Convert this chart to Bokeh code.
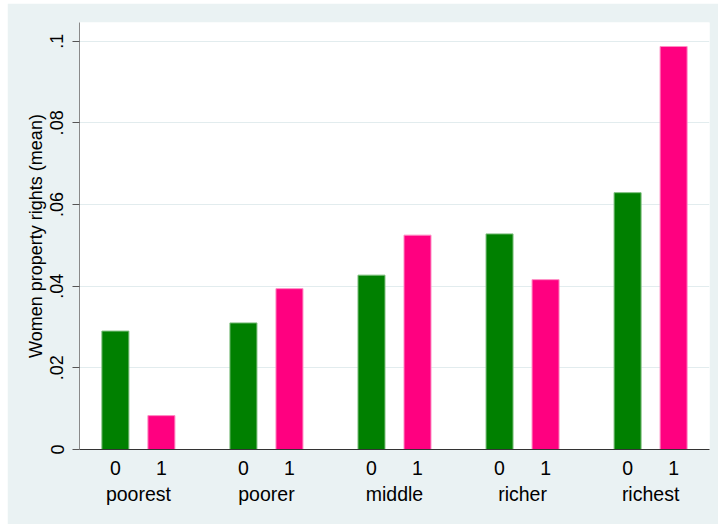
from bokeh.embed import file_html
from bokeh.layouts import column, row
from bokeh.models import ColumnDataSource, FactorRange, FixedTicker, Range1d, Spacer
from bokeh.plotting import figure
from bokeh.resources import INLINE

# Wealth quintiles and the two sub-groups shown within each
groups = ["poorest", "poorer", "middle", "richer", "richest"]
subgroups = ["0", "1"]

# Mean of the women property rights indicator per quintile and sub-group
mean_0 = [0.0290, 0.0310, 0.0427, 0.0528, 0.0629]
mean_1 = [0.0083, 0.0394, 0.0525, 0.0416, 0.0987]

y_ticks = [0, 0.02, 0.04, 0.06, 0.08, 0.1]
y_tick_labels = ["0", ".02", ".04", ".06", ".08", ".1"]

FONT = "Liberation Sans"
BG = "#EAF2F3"
GREEN, GREEN_EDGE = "#008000", "#7DBE7D"
PINK, PINK_EDGE = "#FF0080", "#FF8CC4"

factors, tops, fills, edges = [], [], [], []
for g, v0, v1 in zip(groups, mean_0, mean_1):
    factors += [(g, subgroups[0]), (g, subgroups[1])]
    tops += [v0, v1]
    fills += [GREEN, PINK]
    edges += [GREEN_EDGE, PINK_EDGE]

source = ColumnDataSource(dict(x=factors, top=tops, fill=fills, edge=edges))

x_range = FactorRange(
    *factors,
    factor_padding=0.0,
    group_padding=0.7826,
    range_padding=0.28,
    range_padding_units="absolute",
)

p = figure(
    x_range=x_range,
    y_range=Range1d(0, 0.10458),
    width=711,
    height=521,
    output_backend="svg",
    toolbar_location=None,
    min_border_left=72,
    min_border_right=9,
    min_border_top=19,
    min_border_bottom=75,
)
p.background_fill_color = "white"
p.border_fill_color = BG
p.outline_line_color = None

p.vbar(x="x", top="top", width=0.587, fill_color="fill", line_color="edge",
       line_width=1, source=source)

# Horizontal grid only
p.xgrid.grid_line_color = None
p.ygrid.ticker = FixedTicker(ticks=y_ticks)
p.ygrid.grid_line_color = "#E2ECEE"
p.ygrid.grid_line_width = 1

# Y axis: rotated tick labels in Stata style
yax = p.yaxis[0]
yax.ticker = FixedTicker(ticks=y_ticks)
yax.major_label_overrides = {t: lab for t, lab in zip(y_ticks, y_tick_labels)}
yax.major_label_orientation = "vertical"
yax.major_label_text_font = FONT
yax.major_label_text_font_size = "18px"
yax.major_label_text_color = "black"
yax.major_label_standoff = 9
yax.major_tick_out = 7
yax.major_tick_in = 0
yax.major_tick_line_color = "#555555"
yax.minor_tick_line_color = None
yax.axis_line_color = "#8A8A8A"
yax.axis_label = "Women property rights (mean)"
yax.axis_label_text_font = FONT
yax.axis_label_text_font_size = "18px"
yax.axis_label_text_font_style = "normal"
yax.axis_label_text_color = "black"
yax.axis_label_standoff = 2

# X axis: sub-group labels above quintile names
xax = p.xaxis[0]
xax.major_tick_line_color = None
xax.minor_tick_line_color = None
xax.axis_line_color = "#333333"
xax.separator_line_color = None
xax.major_label_text_font = FONT
xax.major_label_text_font_size = "19.5px"
xax.major_label_text_color = "black"
xax.major_label_standoff = 5
xax.group_text_font = FONT
xax.group_text_font_size = "19.5px"
xax.group_text_font_style = "normal"
xax.group_text_color = "black"

layout = column(Spacer(height=3), row(Spacer(width=7), p), spacing=0)

open("out.html", "w").write(file_html(layout, INLINE))
